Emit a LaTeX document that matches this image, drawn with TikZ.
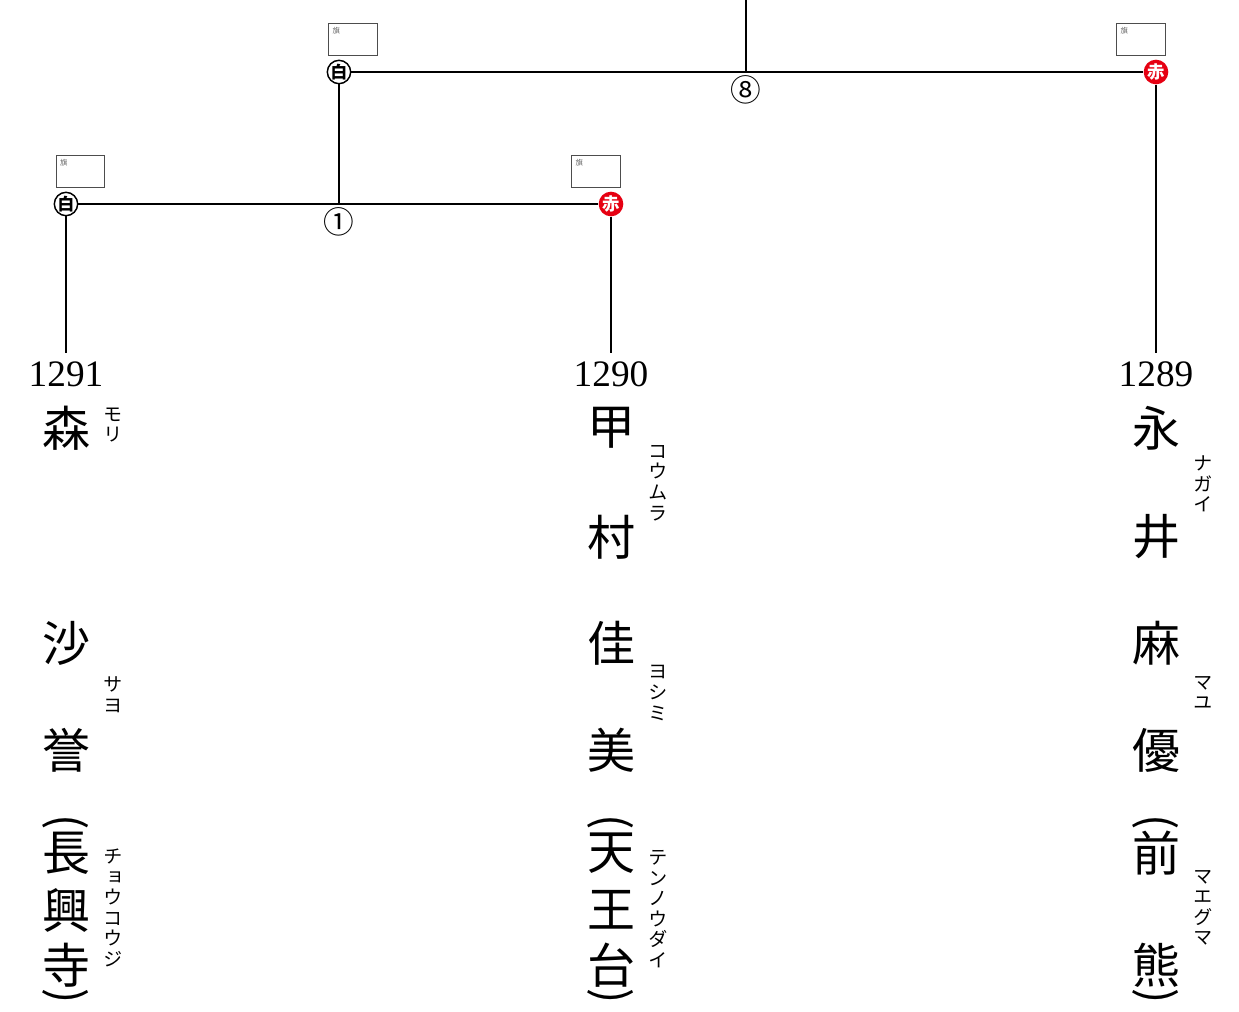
\documentclass[tikz,border=0pt]{standalone}
\usepackage{fontspec}
\usetikzlibrary{positioning}
\newfontfamily\jp{Noto Sans CJK JP}
\newfontfamily\jpv[RawFeature=+vert]{Noto Sans CJK JP}
\newfontfamily\numfont{Liberation Serif}
\definecolor{akared}{HTML}{E60012}
\definecolor{flagline}{HTML}{4D4D4D}
\tikzset{line/.style={draw=black,line width=1pt},
  shiro/.style={circle,draw=black,line width=1.1pt,fill=white,inner sep=0pt,minimum size=17.5pt,font=\jp\bfseries\fontsize{12.5}{12.5}\selectfont},
  aka/.style={circle,fill=akared,text=white,inner sep=0pt,minimum size=18.5pt,font=\jp\bfseries\fontsize{13}{13}\selectfont},
  flag/.style={draw=flagline,line width=.6pt,minimum width=36.5pt,minimum height=24pt,inner sep=0pt},
  flagtxt/.style={text=black!60,font=\jp\fontsize{5.5}{5.5}\selectfont,inner sep=0pt},
  num/.style={font=\numfont\fontsize{28}{28}\selectfont,inner sep=6pt},
  maru/.style={font=\jp\fontsize{23}{23}\selectfont,inner sep=0pt},
  mainch/.style={font=\jp\fontsize{36}{36}\selectfont,inner sep=0pt},
  paren/.style={font=\jp\fontsize{34}{34}\selectfont,inner sep=0pt,rotate=-90},
  ruby/.style={font=\jpv\fontsize{14.5}{15.4}\selectfont,align=center,inner sep=0pt}}
\newcommand{\flagbox}[3]{%
\node[flag] (#1) at (#2,#3) {};
\node[flagtxt,anchor=north west] (#1t) at ([shift={(3pt,-3pt)}]#1.north west) {旗};}
\begin{document}
\begin{tikzpicture}[x=.75pt,y=-.75pt]
\useasboundingbox (0,0) rectangle (1239,1012);
% bracket
\coordinate (topT) at (746,0);
\coordinate (joinT) at (746,72);
\coordinate (joinB) at (339,204);
\node[shiro] (shiroT) at (339,72) {白};
\node[aka] (akaT) at (1156,72) {赤};
\node[shiro] (shiroL) at (66,204) {白};
\node[aka] (akaL) at (611,204) {赤};
\flagbox{flagT}{353}{39}
\flagbox{flagR}{1141}{39}
\flagbox{flagL}{80.5}{171}
\flagbox{flagM}{596}{171}
\node[maru] (bout8) at (746,90) {⑧};
\node[maru] (bout1) at (339,222) {①};
\node[num] (n1291) at (66,374) {1291};
\node[num] (n1290) at (611,374) {1290};
\node[num] (n1289) at (1156,374) {1289};
\draw[line] (topT) -- (joinT);
\draw[line] (shiroT) -- (akaT);
\draw[line] (shiroT) -- (joinB);
\draw[line] (shiroL) -- (akaL);
\draw[line] (shiroL) -- (n1291);
\draw[line] (akaL) -- (n1290);
\draw[line] (akaT) -- (n1289);
% names
\foreach \ch/\y [count=\i] in {森/428,沙/643,誉/750,長/853,興/910,寺/965}
  \node[mainch] (mori\i) at (66,\y) {\ch};
\foreach \ch/\y [count=\i] in {甲/428,村/537,佳/643,美/750,天/853,王/910,台/965}
  \node[mainch] (komura\i) at (611,\y) {\ch};
\foreach \ch/\y [count=\i] in {永/428,井/537,麻/643,優/750,前/853,熊/965}
  \node[mainch] (nagai\i) at (1156,\y) {\ch};
\foreach \x/\n in {66/mori,611/komura,1156/nagai}{
  \node[paren] (\n open) at (\x,822) {(};
  \node[paren] (\n close) at (\x,996) {)};}
% readings
\node[ruby] (rmori) at (113,425) {モ\\リ};
\node[ruby] (rsayo) at (113,695) {サ\\ヨ};
\node[ruby] (rchoko) at (113,908) {チ\\ョ\\ウ\\コ\\ウ\\ジ};
\node[ruby] (rkomura) at (658,483) {コ\\ウ\\ム\\ラ};
\node[ruby] (ryoshimi) at (658,693) {ヨ\\シ\\ミ};
\node[ruby] (rtenno) at (658,909) {テ\\ン\\ノ\\ウ\\ダ\\イ};
\node[ruby] (rnagai) at (1203,484) {ナ\\ガ\\イ};
\node[ruby] (rmayu) at (1203,693) {マ\\ユ};
\node[ruby] (rmaeguma) at (1203,908) {マ\\エ\\グ\\マ};
\end{tikzpicture}
\end{document}
